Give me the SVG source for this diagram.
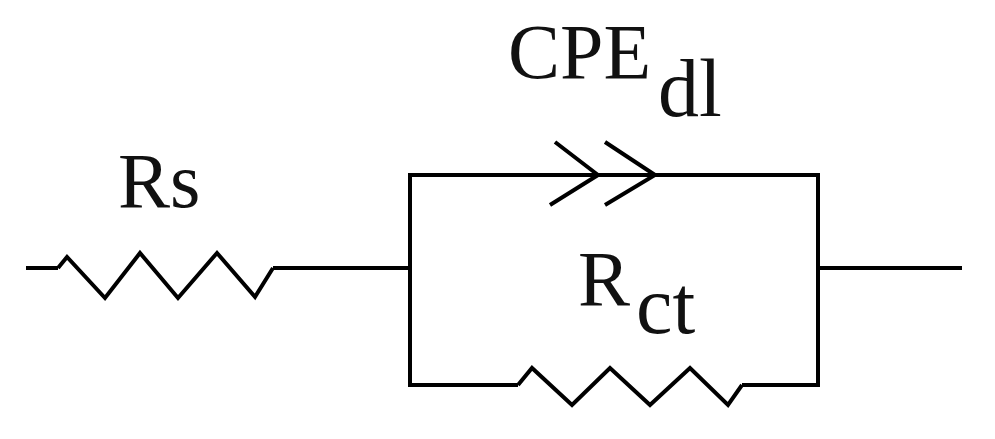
<svg xmlns="http://www.w3.org/2000/svg" width="995" height="439" viewBox="0 0 995 439">
<style>
.w{fill:none;stroke:#000;stroke-width:4;stroke-linejoin:miter}
.t{font-family:"Liberation Serif",serif;fill:#111}
</style>
<rect width="995" height="439" fill="#fff"/>
<g id="connectors">
<polyline class="w" points="26,268 58,268"/>
<polyline class="w" points="273,268 410,268 410,385 518,385"/>
<polyline class="w" points="742,385 818,385 818,175 410,175 410,268"/>
<polyline class="w" points="818,268 962,268"/>
</g>
<g id="Rs">
<polyline class="w" points="58,268 67,257 105,298 140,253 178,298 217,253 255,297 273,268"/>
<text class="t" x="118" y="207" font-size="78">Rs</text>
</g>
<g id="CPEdl">
<polyline class="w" points="555,142 598,175 550,205"/>
<polyline class="w" points="605,142 655,175 605,205"/>
<text class="t" x="508" y="78" font-size="78">CPE</text>
<text class="t" x="658" y="116" font-size="82">dl</text>
</g>
<g id="Rct">
<polyline class="w" points="518,385 532,368 572,405 610,368 650,405 690,368 728,405 742,385"/>
<text class="t" x="578" y="305" font-size="78">R</text>
<text class="t" x="636" y="333" font-size="82">ct</text>
</g>
</svg>
